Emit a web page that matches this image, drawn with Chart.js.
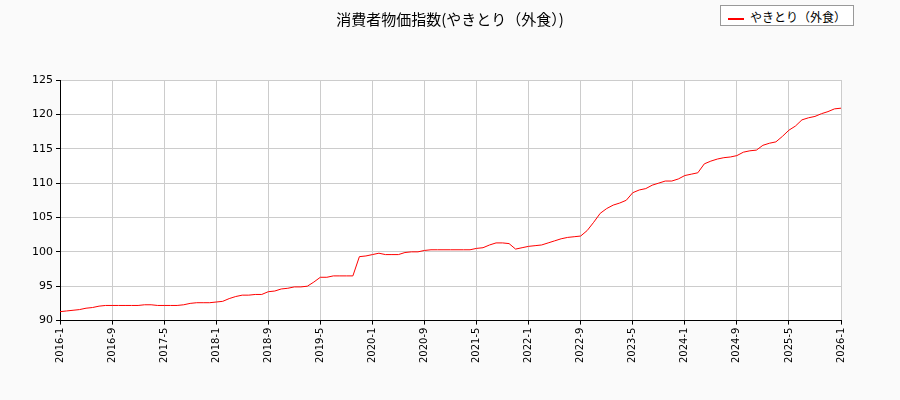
<!DOCTYPE html>
<html><head><meta charset="utf-8">
<script src="https://cdn.jsdelivr.net/npm/chart.js@4/dist/chart.umd.min.js"></script>
<style>body{margin:0;background:#fafafa}#w{position:relative;width:900px;height:400px}
#t{position:absolute;top:8px;left:0;width:900px;text-align:center;font:15px "Noto Sans CJK JP";color:#000}
#lg{position:absolute;top:5px;left:720px;width:134px;height:21px;border:1px solid #999;background:#fff;font:12px "Noto Sans CJK JP";line-height:21px;box-sizing:border-box}
#lg span{display:inline-block;width:16px;height:2px;background:red;vertical-align:middle;margin:0 6px 0 7px}</style></head>
<body><div id="w"><canvas id="c" width="900" height="400"></canvas>
<div id="t">消費者物価指数(やきとり（外食）)</div>
<div id="lg"><span></span>やきとり（外食）</div></div>
<script>
const startYear=2016;
const values=[
91.3,91.4,91.5,91.6,91.8,91.9,92.1,92.2,92.2,92.2,92.2,92.2,
92.2,92.3,92.3,92.2,92.2,92.2,92.2,92.3,92.5,92.6,92.6,92.6,
92.7,92.8,93.2,93.5,93.7,93.7,93.8,93.8,94.2,94.3,94.6,94.7,
94.9,94.9,95.0,95.6,96.3,96.3,96.5,96.5,96.5,96.5,99.3,99.4,
99.6,99.8,99.6,99.6,99.6,99.9,100.0,100.0,100.2,100.3,100.3,100.3,
100.3,100.3,100.3,100.3,100.5,100.6,101.0,101.3,101.3,101.2,100.4,100.6,
100.8,100.9,101.0,101.3,101.6,101.9,102.1,102.2,102.3,103.1,104.3,105.6,
106.3,106.8,107.1,107.5,108.6,109.0,109.2,109.7,110.0,110.3,110.3,110.6,
111.1,111.3,111.5,112.8,113.2,113.5,113.7,113.8,114.0,114.5,114.7,114.8,
115.5,115.8,116.0,116.8,117.7,118.3,119.2,119.5,119.7,120.1,120.4,120.8,
120.9];
const labels=[];
for(let i=0;i<values.length;i++){labels.push((startYear+Math.floor(i/12))+'-'+(i%12+1));}
const yTicks=[90,95,100,105,110,115,120,125];
new Chart(document.getElementById('c'),{type:'line',
data:{labels,datasets:[{data:values,borderColor:'red',borderWidth:1,pointRadius:0,tension:0}]},
options:{responsive:false,animation:false,
layout:{padding:{left:0,right:59,top:80,bottom:34}},
plugins:{legend:{display:false},tooltip:{enabled:false}},
scales:{x:{type:'category',offset:false,grid:{color:'#ccc',drawTicks:true,tickColor:'#000',tickLength:4},border:{color:'#000'},
ticks:{autoSkip:false,maxRotation:90,minRotation:90,color:'#000',font:{family:'DejaVu Sans',size:10},
callback:(v,i)=>i%8===0?labels[i]:null}},
y:{min:90,max:125,afterBuildTicks:a=>{a.ticks=yTicks.map(v=>({value:v}));},afterFit:a=>{a.width=60;},
grid:{color:'#ccc',tickColor:'#000',tickLength:4},border:{color:'#000'},
ticks:{color:'#000',font:{family:'DejaVu Sans',size:11}}}}},
plugins:[{id:'bg',beforeDraw(ch){const {ctx,chartArea:a}=ch;ctx.save();ctx.fillStyle='#fff';ctx.fillRect(a.left,a.top,a.right-a.left,a.bottom-a.top);ctx.restore();}}]
});
</script></body></html>
